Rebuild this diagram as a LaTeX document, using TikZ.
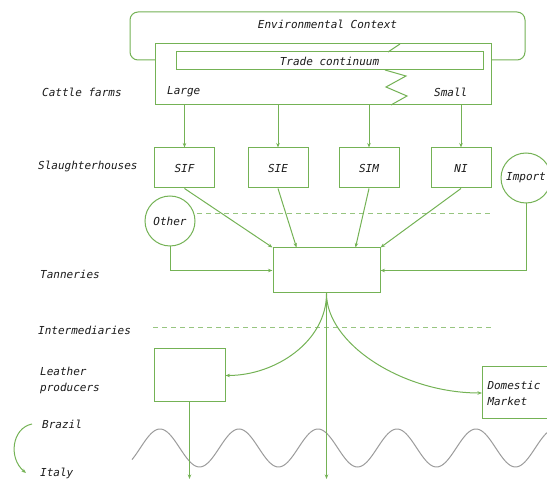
\documentclass[tikz,border=0pt]{standalone}
\usepackage{fontspec}
\setmonofont{DejaVu Sans Mono}
\usepackage{xcolor}
\usepackage{tikz}
\usetikzlibrary{arrows.meta,positioning,calc}
\definecolor{ChainGreen}{HTML}{74B255}
\definecolor{ChainWave}{HTML}{9C9C9C}
\definecolor{ChainInk}{HTML}{1A1A1A}

\begin{document}
\begin{tikzpicture}[x=1pt, y=-1pt, font=\fontsize{11}{16}\selectfont\ttfamily\itshape, >={Stealth[length=4.5pt,width=3.5pt]},
  box/.style={draw=ChainGreen, line width=1pt, fill=white, text=ChainInk, inner sep=0pt},
  house/.style={box, minimum width=60pt, minimum height=40pt},
  source/.style={circle, draw=ChainGreen, line width=1pt, fill=white, text=ChainInk, minimum size=50pt, inner sep=0pt},
  tag/.style={anchor=west, inner sep=0pt, text=ChainInk, align=left},
  feed/.style={->, line width=1pt, ChainGreen},
  link/.style={line width=1pt, ChainGreen},
  split/.style={line width=1pt, ChainGreen!75, dash pattern=on 5pt off 4pt},
  wave/.style={line width=1pt, ChainWave}]
\useasboundingbox (0,0) rectangle (547,481);

% context and farms
\node[box, rounded corners=8pt, minimum width=395pt, minimum height=48pt] (env) at (327.5,36) {};
\node[tag, anchor=center] (envtxt) at (327.5,24) {Environmental Context};
\node[box, minimum width=336pt, minimum height=61pt] (farms) at (323,74.5) {};
\node[box, minimum width=307pt, minimum height=18pt] (trade) at (329.5,61) {Trade continuum};
\node[tag] (large) at (167,92) {Large};
\node[tag] (small) at (434,92) {Small};
\coordinate (tradetop) at (388,52);
\coordinate (farmtop) at (400,44);
\coordinate (zig) at (385,70);
\draw[link] (tradetop) -- (farmtop);
\draw[link] (zig) -- ++(21,6) -- ++(-20,11) -- ++(21,9) -- ++(-16,9);

% row labels
\node[tag] (lfarms) at (42,92) {Cattle farms};
\node[tag] (lhouses) at (38,166) {Slaughterhouses};
\node[tag] (ltan) at (40,274) {Tanneries};
\node[tag] (linter) at (38,330) {Intermediaries};
\node[tag] (lleather) at (40,380) {Leather\\producers};
\node[tag] (brazil) at (42,424) {Brazil};
\node[tag] (italy) at (40,473) {Italy};

% slaughterhouses
\foreach \n/\t/\x in {sif/SIF/184.5,sie/SIE/278,sim/SIM/369,ni/NI/461}{\node[house] (\n) at (\x,168) {\t};}
\foreach \n in {sif,sie,sim,ni}{\draw[feed] (farms.south -| \n) -- (\n.north);}

\node[source] (other) at (170,221) {Other};
\node[source] (import) at (526,178) {Import};
\draw[split] (197,214) -- (491,214);

% tanneries
\node[box, minimum width=107pt, minimum height=45pt] (tan) at (326.5,270.5) {};
\draw[feed] (sif.south) -- (tan.north west);
\draw[feed] (sie.south) -- ([xshift=24pt]tan.north west);
\draw[feed] (sim.south) -- ([xshift=-25pt]tan.north east);
\draw[feed] (ni.south) -- (tan.north east);
\draw[feed] (other.south) |- (tan.west);
\draw[feed] (import.south) |- (tan.east);

\draw[split] (153,328) -- (491,328);

% leather and markets
\node[box, minimum width=71pt, minimum height=53pt] (leather) at (189.5,375.5) {};
\node[box, anchor=west, minimum height=52pt, text width=72pt, inner sep=5pt, align=left] (market) at (482,393) {Domestic\\Market};
\draw[feed] (tan.south) .. controls +(0,48) and +(50,0) .. (leather.east);
\draw[feed] (tan.south) .. controls +(0,50) and +(-80,0) .. (market.west);

\draw[wave] plot[domain=132:552, samples=260, smooth] (\x,{448-19*sin((\x-160)*4.557+90)});

\coordinate (tanend) at (326.5,479);
\coordinate (leatherend) at (189.5,479);
\draw[feed] (tan.south) -- (tanend);
\draw[feed] (leather.south) -- (leatherend);

\draw[feed] ([xshift=-10pt]brazil.west) .. controls (12,428) and (8,458) .. ([xshift=-14pt]italy.west);

\end{tikzpicture}
\end{document}
